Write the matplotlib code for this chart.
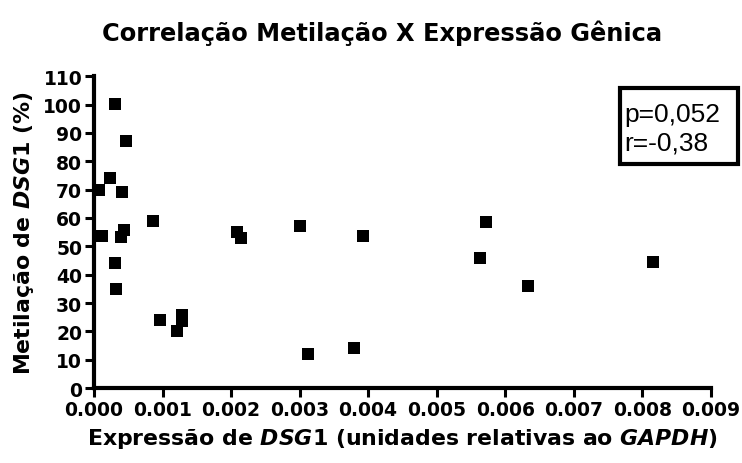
import matplotlib
matplotlib.use("Agg")
import matplotlib.pyplot as plt
from matplotlib.patches import Rectangle

# Expression of DSG1 relative to GAPDH, and DSG1 methylation (%)
expressao = [0.00031, 0.00046, 0.00024, 0.00008, 0.00041, 0.00012, 0.00039,
             0.00044, 0.00086, 0.00030, 0.00032, 0.00097, 0.00128, 0.00128,
             0.00121, 0.00209, 0.00214, 0.00300, 0.00393, 0.00312, 0.00380,
             0.00572, 0.00563, 0.00634, 0.00816]
metilacao = [100.3, 87.2, 74.2, 70.0, 69.2, 53.7, 53.3,
             55.6, 59.0, 44.1, 34.8, 23.9, 25.9, 23.8,
             20.0, 55.1, 53.0, 57.1, 53.8, 12.0, 14.1,
             58.5, 46.0, 36.0, 44.6]

x_ticks = [0.000, 0.001, 0.002, 0.003, 0.004, 0.005, 0.006, 0.007, 0.008, 0.009]
y_ticks = [0, 10, 20, 30, 40, 50, 60, 70, 80, 90, 100, 110]
stats_lines = ["p=0,052", "r=-0,38"]

plt.rcParams["mathtext.fontset"] = "custom"
plt.rcParams["mathtext.it"] = "DejaVu Sans:italic:bold"
plt.rcParams["mathtext.rm"] = "DejaVu Sans:bold"

fig = plt.figure(figsize=(7.42, 4.64), dpi=100)
ax = fig.add_axes([0.1267, 0.1616, 0.8311, 0.6718])

ax.scatter(expressao, metilacao, marker="s", s=8.0**2, color="black",
           linewidths=0, clip_on=False, zorder=3)

ax.set_xlim(0, 0.009)
ax.set_ylim(0, 110)
ax.set_xticks(x_ticks)
ax.set_xticklabels([f"{t:.3f}" for t in x_ticks])
ax.set_yticks(y_ticks)
ax.set_yticklabels([str(t) for t in y_ticks])

for side in ("top", "right"):
    ax.spines[side].set_visible(False)
for side in ("left", "bottom"):
    ax.spines[side].set_linewidth(3.0)
    ax.spines[side].set_capstyle("projecting")

ax.tick_params(axis="both", which="major", length=6.5, width=2.2,
               direction="out", labelsize=13.5, pad=2)
for lab in ax.get_xticklabels() + ax.get_yticklabels():
    lab.set_fontweight("bold")
    lab.set_family("DejaVu Sans")

ax.set_xlabel(r"Expressão de $\mathit{DSG1}$ (unidades relativas ao $\mathit{GAPDH}$)",
              fontsize=15.8, fontweight="bold", labelpad=5)
ax.set_ylabel(r"Metilação de $\mathit{DSG1}$ (%)",
              fontsize=15.8, fontweight="bold", labelpad=5)

fig.text(0.515, 0.929, "Correlação Metilação X Expressão Gênica",
         ha="center", va="center", fontsize=17.4, fontweight="bold",
         family="DejaVu Sans")

# Statistics box
fig.add_artist(Rectangle((0.8356, 0.6444), 0.159, 0.1638,
                         transform=fig.transFigure, facecolor="white",
                         edgecolor="black", linewidth=3.0, zorder=5))
for line, ybase in zip(stats_lines, (0.7377, 0.6752)):
    fig.text(0.8410, ybase, line, ha="left", va="baseline",
             fontsize=19, family="Liberation Sans", zorder=6)

fig.savefig("out.png", dpi=100)
